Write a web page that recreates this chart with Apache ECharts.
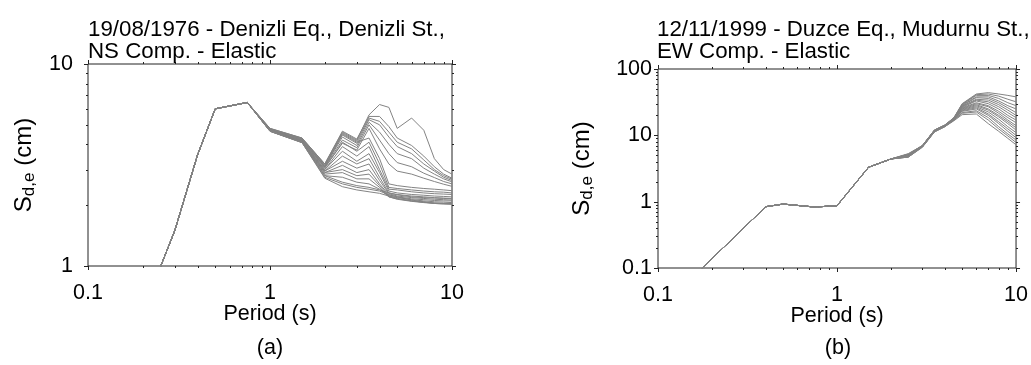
<!DOCTYPE html>
<html>
<head>
<meta charset="utf-8">
<script src="https://cdn.jsdelivr.net/npm/echarts@6/dist/echarts.min.js"></script>
<style>
html,body{margin:0;padding:0;background:#fff;}
#c{width:1031px;height:365px;}
</style>
</head>
<body>
<div id="c"></div>
<script>
// ---------- DATA ----------
// (a) Denizli
const leftTitle = '19/08/1976 - Denizli Eq., Denizli St.,\nNS Comp. - Elastic';
const leftHeadPeriods = [0.2, 0.25, 0.3, 0.4, 0.5, 0.75];
const leftHeadValues  = [0.55, 0.99, 1.5, 3.55, 6.0, 6.45];
const leftTailPeriods = [1, 1.5, 2, 2.5, 3, 3.5, 4, 4.5, 5, 6, 7, 8, 9, 10];
const leftTails = [
  [4.80, 4.30, 3.20, 4.60, 4.20, 5.60, 6.30, 6.10, 4.80, 5.40, 4.70, 3.40, 3.00, 2.85],
  [4.80, 4.30, 3.20, 4.65, 4.25, 5.50, 5.50, 4.90, 4.30, 3.95, 3.50, 3.10, 2.85, 2.72],
  [4.78, 4.28, 3.18, 4.55, 4.15, 5.40, 5.20, 4.60, 4.10, 3.80, 3.35, 3.00, 2.80, 2.69],
  [4.76, 4.26, 3.15, 4.45, 4.05, 5.30, 5.00, 4.35, 3.90, 3.60, 3.20, 2.95, 2.75, 2.65],
  [4.75, 4.25, 3.12, 4.35, 3.95, 5.15, 4.60, 4.00, 3.60, 3.40, 3.05, 2.85, 2.70, 2.61],
  [4.74, 4.22, 3.10, 4.20, 3.85, 5.00, 4.20, 3.60, 3.25, 3.10, 2.88, 2.74, 2.62, 2.55],
  [4.72, 4.20, 3.08, 4.05, 3.75, 4.80, 3.80, 3.20, 2.95, 2.85, 2.72, 2.62, 2.54, 2.48],
  [4.72, 4.18, 3.10, 4.50, 4.10, 4.30, 3.40, 2.55, 2.50, 2.45, 2.42, 2.40, 2.38, 2.36],
  [4.70, 4.16, 3.05, 4.10, 3.70, 4.10, 3.20, 2.45, 2.42, 2.38, 2.35, 2.33, 2.32, 2.30],
  [4.70, 4.15, 3.00, 3.90, 3.50, 3.90, 3.00, 2.40, 2.38, 2.33, 2.30, 2.28, 2.27, 2.26],
  [4.69, 4.14, 3.00, 3.70, 3.30, 3.60, 2.90, 2.35, 2.30, 2.26, 2.24, 2.22, 2.21, 2.20],
  [4.68, 4.13, 2.95, 3.50, 3.20, 3.40, 2.75, 2.30, 2.26, 2.22, 2.20, 2.18, 2.17, 2.16],
  [4.68, 4.12, 2.95, 3.30, 3.05, 3.20, 2.65, 2.28, 2.22, 2.18, 2.16, 2.14, 2.13, 2.12],
  [4.67, 4.11, 2.90, 3.15, 2.90, 3.00, 2.55, 2.25, 2.20, 2.15, 2.13, 2.11, 2.10, 2.10],
  [4.66, 4.10, 2.90, 3.00, 2.80, 2.85, 2.50, 2.22, 2.18, 2.13, 2.10, 2.08, 2.07, 2.06],
  [4.66, 4.10, 2.85, 2.90, 2.70, 2.70, 2.45, 2.20, 2.15, 2.10, 2.07, 2.05, 2.04, 2.04],
  [4.65, 4.09, 2.80, 2.75, 2.60, 2.55, 2.40, 2.20, 2.14, 2.09, 2.06, 2.04, 2.03, 2.03],
  [4.65, 4.08, 2.75, 2.55, 2.45, 2.40, 2.35, 2.25, 2.20, 2.12, 2.08, 2.05, 2.04, 2.03],
  [4.64, 4.08, 2.72, 2.47, 2.38, 2.33, 2.29, 2.22, 2.16, 2.10, 2.07, 2.04, 2.03, 2.02],
  [4.66, 4.10, 2.80, 2.60, 2.50, 2.45, 2.38, 2.30, 2.25, 2.20, 2.18, 2.17, 2.16, 2.15]
];

// (b) Duzce
const rightTitle = '12/11/1999 - Duzce Eq., Mudurnu St.,\nEW Comp. - Elastic';
const rightHeadPeriods = [0.15, 0.2, 0.3, 0.4, 0.5, 0.75, 1, 1.5, 2];
const rightHeadValues  = [0.065, 0.138, 0.397, 0.84, 0.92, 0.83, 0.87, 3.3, 4.4];
const rightTailPeriods = [2.5, 3, 3.5, 4, 4.5, 5, 6, 7, 8, 9, 10];
const rightTails = [
  [5.3, 7.0, 12.0, 14.3, 18.5, 30.0, 42.0, 44.0, 42.0, 40.0, 38.0],
  [5.2, 7.0, 12.0, 14.3, 18.4, 29.5, 41.0, 42.0, 39.0, 35.0, 32.0],
  [5.2, 7.0, 12.0, 14.2, 18.3, 29.0, 40.0, 40.0, 36.0, 31.0, 28.0],
  [5.1, 7.0, 11.9, 14.2, 18.2, 28.5, 38.0, 38.0, 33.0, 28.0, 25.0],
  [5.1, 7.0, 11.9, 14.1, 18.1, 28.0, 37.0, 36.0, 31.0, 26.0, 22.0],
  [5.0, 6.9, 11.8, 14.1, 18.0, 27.5, 35.0, 34.0, 29.0, 24.0, 20.0],
  [5.0, 6.9, 11.8, 14.0, 17.9, 27.0, 34.0, 32.0, 27.0, 22.0, 18.5],
  [5.0, 6.9, 11.7, 14.0, 17.8, 26.5, 33.0, 30.0, 25.0, 20.0, 17.0],
  [4.9, 6.9, 11.7, 13.9, 17.7, 26.0, 31.0, 28.0, 23.0, 18.5, 15.5],
  [4.9, 6.8, 11.6, 13.9, 17.6, 25.5, 30.0, 27.0, 21.5, 17.0, 14.0],
  [4.9, 6.8, 11.6, 13.8, 17.5, 25.0, 29.0, 25.0, 20.0, 16.0, 13.0],
  [4.8, 6.8, 11.5, 13.8, 17.4, 24.5, 28.0, 24.0, 19.0, 15.0, 12.0],
  [4.8, 6.8, 11.5, 13.7, 17.3, 24.0, 27.0, 22.5, 17.5, 13.5, 11.0],
  [4.8, 6.7, 11.4, 13.7, 17.2, 23.5, 26.0, 21.0, 16.0, 12.5, 10.0],
  [4.8, 6.7, 11.4, 13.6, 17.1, 23.0, 25.0, 20.0, 15.0, 11.5, 9.2],
  [4.7, 6.7, 11.3, 13.6, 17.0, 22.0, 23.5, 18.5, 13.5, 10.5, 8.5],
  [4.7, 6.7, 11.3, 13.5, 16.9, 21.5, 22.5, 17.0, 12.5, 9.8, 7.8],
  [4.7, 6.6, 11.2, 13.5, 16.6, 20.5, 21.0, 15.0, 11.5, 9.0, 7.2]
];

// axes / ticks
const periodRange = [0.1, 10];
const leftYRange = [1, 10];
const rightYRange = [0.1, 100];
const periodMajorTicks = [0.1, 1, 10];
const periodMinorTicks = [0.2, 0.3, 0.4, 0.5, 0.6, 0.7, 0.8, 0.9, 2, 3, 4, 5, 6, 7, 8, 9];
const leftYMajorTicks = [1, 10];
const leftYMinorTicks = [2, 3, 4, 5, 6, 7, 8, 9];
const rightYMajorTicks = [0.1, 1, 10, 100];
const rightYMinorTicks = [0.2, 0.3, 0.4, 0.5, 0.6, 0.7, 0.8, 0.9, 2, 3, 4, 5, 6, 7, 8, 9, 20, 30, 40, 50, 60, 70, 80, 90];

// ---------- CHART ----------
const FONT = '"Liberation Sans", Arial, sans-serif';
const LINE_COLOR = '#838383';
const LABEL_SIZE = 21.5;
const TITLE_SIZE = 22.3;

function buildCurves(headP, headV, tailP, tails, idx) {
  return tails.map(function (tail) {
    const pts = [];
    headP.forEach(function (p, i) { pts.push([p, headV[i]]); });
    tailP.forEach(function (p, i) { pts.push([p, tail[i]]); });
    return {
      type: 'line', xAxisIndex: idx, yAxisIndex: idx,
      data: pts, showSymbol: false, symbol: 'none', silent: true,
      lineStyle: { color: LINE_COLOR, width: 1 }, animation: false, z: 2
    };
  });
}

function tickSeries(idx, xr, yr, xMaj, xMin, yMaj, yMin) {
  const data = [];
  xMaj.forEach(function (v) { data.push([v, yr[0], 0, 1]); });
  xMin.forEach(function (v) { data.push([v, yr[0], 0, 0]); });
  yMaj.forEach(function (v) { data.push([xr[0], v, 1, 1]); });
  yMin.forEach(function (v) { data.push([xr[0], v, 1, 0]); });
  return {
    type: 'custom', xAxisIndex: idx, yAxisIndex: idx, silent: true, clip: false,
    animation: false, z: 5,
    encode: { x: 0, y: 1 },
    data: data,
    renderItem: function (params, api) {
      const kind = api.value(2);
      const len = api.value(3) ? 4 : 2;
      const st = { stroke: '#222', lineWidth: 1 };
      if (kind === 0) {
        const v = api.value(0);
        const b = api.coord([v, yr[0]]);
        const t = api.coord([v, yr[1]]);
        const x = Math.round(b[0]) + 0.5;
        return { type: 'group', children: [
          { type: 'line', shape: { x1: x, y1: b[1], x2: x, y2: b[1] + len }, style: st },
          { type: 'line', shape: { x1: x, y1: t[1], x2: x, y2: t[1] - len }, style: st }
        ]};
      } else {
        const v = api.value(1);
        const l = api.coord([xr[0], v]);
        const r = api.coord([xr[1], v]);
        const y = Math.round(l[1]) + 0.5;
        return { type: 'group', children: [
          { type: 'line', shape: { x1: l[0], y1: y, x2: l[0] - len, y2: y }, style: st },
          { type: 'line', shape: { x1: r[0], y1: y, x2: r[0] + len, y2: y }, style: st }
        ]};
      }
    }
  };
}

const yName = '{s|S}{sub|d,e}{s| (cm)}';
const yNameRich = {
  s: { fontSize: 24, fontFamily: FONT, color: '#000', lineHeight: 28 },
  sub: { fontSize: 17, fontFamily: FONT, color: '#000', lineHeight: 28, padding: [10, 0, 0, 0] }
};

function xAxis(idx) {
  return {
    type: 'log', logBase: 10, gridIndex: idx, min: periodRange[0], max: periodRange[1],
    name: 'Period (s)', nameLocation: 'middle', nameGap: 37, nameMoveOverlap: false,
    nameTextStyle: { fontSize: LABEL_SIZE, fontFamily: FONT, color: '#000' },
    axisLine: { show: false }, axisTick: { show: false }, splitLine: { show: false },
    minorTick: { show: false }, minorSplitLine: { show: false },
    axisLabel: { fontSize: LABEL_SIZE, fontFamily: FONT, color: '#000', margin: 16 }
  };
}
function yAxis(idx, range, gap, margin) {
  return {
    type: 'log', logBase: 10, gridIndex: idx, min: range[0], max: range[1],
    name: yName, nameLocation: 'middle', nameGap: gap, nameMoveOverlap: false,
    nameTextStyle: { rich: yNameRich },
    axisLine: { show: false }, axisTick: { show: false }, splitLine: { show: false },
    axisLabel: { fontSize: LABEL_SIZE, fontFamily: FONT, color: '#000', margin: margin }
  };
}

const chart = echarts.init(document.getElementById('c'), null, { renderer: 'canvas' });
chart.setOption({
  backgroundColor: '#fff',
  animation: false,
  title: [
    { text: leftTitle, left: 88, top: 19, padding: 0,
      textStyle: { fontSize: TITLE_SIZE, fontWeight: 'normal', fontFamily: FONT, color: '#000', lineHeight: 22 } },
    { text: rightTitle, left: 657, top: 19, padding: 0,
      textStyle: { fontSize: TITLE_SIZE, fontWeight: 'normal', fontFamily: FONT, color: '#000', lineHeight: 22 } }
  ],
  grid: [
    { left: 88, top: 64, right: 579, bottom: 99, show: true, borderColor: '#222', borderWidth: 1, backgroundColor: 'transparent' },
    { left: 658, top: 69, right: 11, bottom: 97, show: true, borderColor: '#222', borderWidth: 1, backgroundColor: 'transparent' }
  ],
  xAxis: [xAxis(0), xAxis(1)],
  yAxis: [yAxis(0, leftYRange, 50, 15), yAxis(1, rightYRange, 62, 6)],
  graphic: [
    { type: 'text', x: 270, y: 348, style: { text: '(a)', fontSize: LABEL_SIZE, fontFamily: FONT, fill: '#000', align: 'center', verticalAlign: 'middle' } },
    { type: 'text', x: 838, y: 348, style: { text: '(b)', fontSize: LABEL_SIZE, fontFamily: FONT, fill: '#000', align: 'center', verticalAlign: 'middle' } }
  ],
  series: [].concat(
    buildCurves(leftHeadPeriods, leftHeadValues, leftTailPeriods, leftTails, 0),
    buildCurves(rightHeadPeriods, rightHeadValues, rightTailPeriods, rightTails, 1),
    [tickSeries(0, periodRange, leftYRange, periodMajorTicks, periodMinorTicks, leftYMajorTicks, leftYMinorTicks),
     tickSeries(1, periodRange, rightYRange, periodMajorTicks, periodMinorTicks, rightYMajorTicks, rightYMinorTicks)]
  )
});
</script>
</body>
</html>
